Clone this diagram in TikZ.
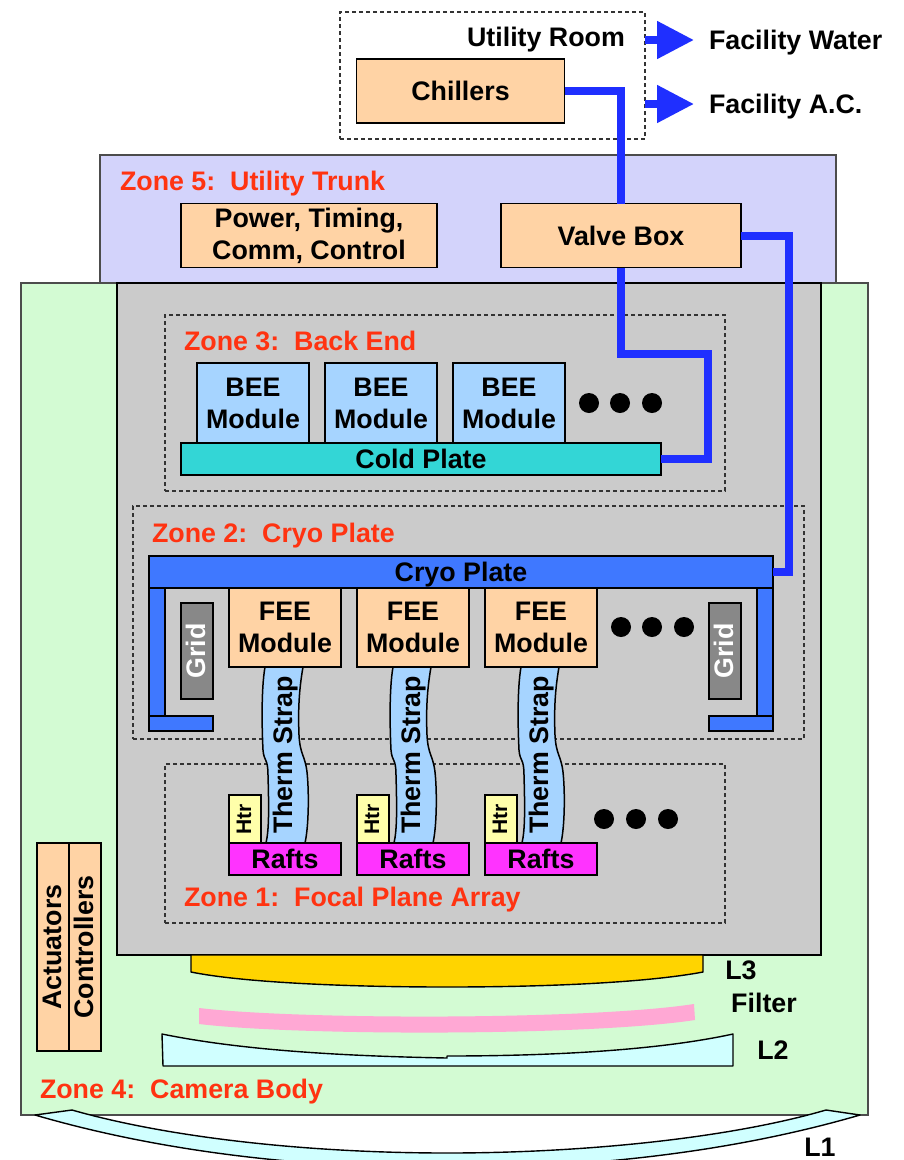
\documentclass[tikz,border=0pt]{standalone}
\usepackage{fontspec}
\setmainfont{Liberation Sans}
\usetikzlibrary{arrows.meta}
\definecolor{peach}{HTML}{FFD3A5}
\definecolor{zonefive}{HTML}{D3D3FB}
\definecolor{zonefour}{HTML}{D3FBD3}
\definecolor{plate}{HTML}{CBCBCB}
\definecolor{strapblue}{HTML}{A6D4FF}
\definecolor{coldcyan}{HTML}{33D6D6}
\definecolor{cryoblue}{HTML}{3F78FF}
\definecolor{pipeblue}{HTML}{1F2FFF}
\definecolor{zonered}{HTML}{FF3311}
\definecolor{raftpink}{HTML}{FF33FF}
\definecolor{htryellow}{HTML}{FFFFAA}
\definecolor{lensgold}{HTML}{FFD400}
\definecolor{filterpink}{HTML}{FFA8D4}
\definecolor{lensblue}{HTML}{D0FFFF}
\definecolor{gridgray}{HTML}{888888}
\tikzset{
  lbl/.style={font=\fontsize{26.8}{32}\selectfont\bfseries, inner sep=0pt, outer sep=0pt, align=center},
  oneline/.style={lbl, text height=19pt, text depth=0pt},
  sideline/.style={lbl, rotate=90, text height=16pt, text depth=0pt},
  box/.style={draw=black, line width=1.6pt, inner sep=0pt, outer sep=0pt},
  zonebox/.style={draw=black!80, dash pattern=on 4pt off 3pt, line width=1.2pt, inner sep=0pt, outer sep=0pt},
  zonelbl/.style={oneline, text=zonered, anchor=west},
  pipe/.style={draw=pipeblue, line width=8pt},
  ventarrow/.style={pipe, -{Triangle[length=37pt,width=36pt]}, shorten >=15pt},
  lens/.style={draw=black, line width=1.4pt, line join=round, fill=lensblue}
}
\begin{document}
\begin{tikzpicture}[x=1pt, y=-1pt]
\clip (0,0) rectangle (903,1160);

% zones, back to front
\fill[white] (0,0) rectangle (903,1160);
\draw[fill=zonefive, draw=black!70, line width=1.2pt] (100,155) rectangle (836,283);
\draw[fill=zonefour, draw=black!70, line width=1.2pt] (21,283) rectangle (868,1115);
\draw[fill=plate, draw=black, line width=1.6pt] (117,283) rectangle (821,955);
\node[zonebox, minimum width=305pt, minimum height=127pt] (utilroom) at (492.5,75.5) {};
\node[zonebox, minimum width=560pt, minimum height=176pt] (zonethree) at (445,403) {};
\node[zonebox, minimum width=671pt, minimum height=233pt] (zonetwo) at (468.5,622.5) {};
\node[zonebox, minimum width=560pt, minimum height=159pt] (zoneone) at (445,843.5) {};

% zone labels
\node[oneline] (utillbl) at (546,37) {Utility Room};
\node[zonelbl] (zfivelbl) at (120,181) {Zone 5:\ \ Utility Trunk};
\node[zonelbl] (zthreelbl) at (184,341) {Zone 3:\ \ Back End};
\node[zonelbl] (ztwolbl) at (152,533) {Zone 2:\ \ Cryo Plate};
\node[zonelbl] (zonelbl) at (184,897) {Zone 1:\ \ Focal Plane Array};
\node[zonelbl] (zfourlbl) at (40,1089) {Zone 4:\ \ Camera Body};

% utility boxes
\node[box, oneline, fill=peach, minimum width=208pt, minimum height=64pt] (chillers) at (460.5,91) {Chillers};
\node[box, lbl, fill=peach, minimum width=256pt, minimum height=64pt] (power) at (309,235.5) {Power, Timing,\\Comm, Control};
\node[box, oneline, fill=peach, minimum width=240pt, minimum height=64pt] (valvebox) at (621,235.5) {Valve Box};

% back end modules
\foreach \n/\x in {a/253,b/381,c/509}
  \node[box, lbl, fill=strapblue, minimum width=112pt, minimum height=80pt] (bee\n) at (\x,403) {BEE\\Module};
\node[box, oneline, fill=coldcyan, minimum width=480pt, minimum height=32pt] (coldplate) at (421,459) {Cold Plate};
\foreach \x in {589,620,652}
  \fill (\x,403) circle (10pt);

% cryo plate and supports
\node[box, oneline, fill=cryoblue, minimum width=624pt, minimum height=32pt] (cryoplate) at (461,572) {Cryo Plate};
\draw[box, fill=cryoblue] (149,588) rectangle (165,716);
\draw[box, fill=cryoblue] (149,716) rectangle (213,731);
\draw[box, fill=cryoblue] (757,588) rectangle (773,716);
\draw[box, fill=cryoblue] (709,716) rectangle (773,731);
\foreach \n/\x in {a/197,b/725}
  \node[box, sideline, fill=gridgray, text=white, minimum width=96pt, minimum height=32pt] (grid\n) at (\x,651) {Grid};

% therm straps, under the modules
\foreach \n/\x in {a/0,b/128,c/256}{
  \begin{scope}[xshift=\x pt]
    \draw[fill=strapblue, draw=black, line width=1.5pt] (265,667) .. controls (261,690) and (262,730) .. (263,750)
      .. controls (264,762) and (268,758) .. (268,775) .. controls (269,810) and (269,830) .. (266,843)
      -- (305,843) .. controls (309,825) and (309,790) .. (307,772) .. controls (305,755) and (300,755) .. (299,735)
      .. controls (298,710) and (299,690) .. (303,667) -- cycle;
    \node[oneline, rotate=90] (strap\n) at (282.5,755) {Therm Strap};
  \end{scope}
}

% front end modules and rafts
\foreach \n/\x in {a/285,b/413,c/541}{
  \node[box, lbl, fill=peach, minimum width=112pt, minimum height=79pt] (fee\n) at (\x,627.5) {FEE\\Module};
  \node[box, oneline, fill=raftpink, minimum width=112pt, minimum height=32pt] (raft\n) at (\x,859) {Rafts};
  \node[box, fill=htryellow, rotate=90, font=\fontsize{21}{24}\selectfont\bfseries, text height=12pt, text depth=0pt, minimum width=48pt, minimum height=32pt] (htr\n) at (\x-40,819) {Htr};
}
\foreach \x in {621,652,684}
  \fill (\x,627) circle (10pt);
\foreach \x in {604,636,668}
  \fill (\x,819) circle (10pt);

% camera side boxes
\node[box, sideline, fill=peach, minimum width=208pt, minimum height=32pt] (actuators) at (53,947) {Actuators};
\node[box, sideline, fill=peach, minimum width=208pt, minimum height=32pt] (controllers) at (85,947) {Controllers};

% lenses and filter
\draw[lens, fill=lensgold] (191,955) -- (191,972) .. controls (240,982) and (340,987) .. (447,987)
  .. controls (555,987) and (650,982) .. (703,972) -- (703,955) -- cycle;
\fill[filterpink] (199,1008) .. controls (300,1020) and (590,1020) .. (694,1004) -- (695,1020)
  .. controls (590,1036) and (300,1036) .. (199,1024) -- cycle;
\draw[lens] (162,1034) .. controls (240,1050) and (340,1056) .. (447,1058) -- (447,1056)
  .. controls (555,1056) and (660,1050) .. (733,1034) -- (733,1066) -- (163,1066) -- cycle;
\draw[lens] (35,1115) -- (72,1110) .. controls (170,1138) and (310,1153) .. (447,1153)
  .. controls (585,1153) and (730,1138) .. (826,1110) -- (860,1115)
  .. controls (740,1150) and (600,1168) .. (447,1168) .. controls (295,1168) and (155,1150) .. (35,1115) -- cycle;
\node[oneline] (lthree) at (741,970) {L3};
\node[oneline] (filterlbl) at (764,1003) {Filter};
\node[oneline] (ltwo) at (773,1050) {L2};
\node[oneline] (lone) at (820,1147) {L1};

% facility outlets
\node[oneline, anchor=west] (facwater) at (709,40) {Facility Water};
\node[oneline, anchor=west] (facac) at (709,104) {Facility A.C.};
\draw[ventarrow] (utilroom.east |- facwater.west) -- (facwater.west);
\draw[ventarrow] (utilroom.east |- facac.west) -- (facac.west);

% coolant lines
\coordinate (bendcold) at (708,354);
\coordinate (bendcryo) at (789,400);
\draw[pipe] (chillers.east) -| (valvebox.north);
\draw[pipe] (valvebox.south) |- (bendcold) |- (coldplate.east);
\draw[pipe] (valvebox.east) -| (bendcryo) |- (cryoplate.east);
\end{tikzpicture}
\end{document}
